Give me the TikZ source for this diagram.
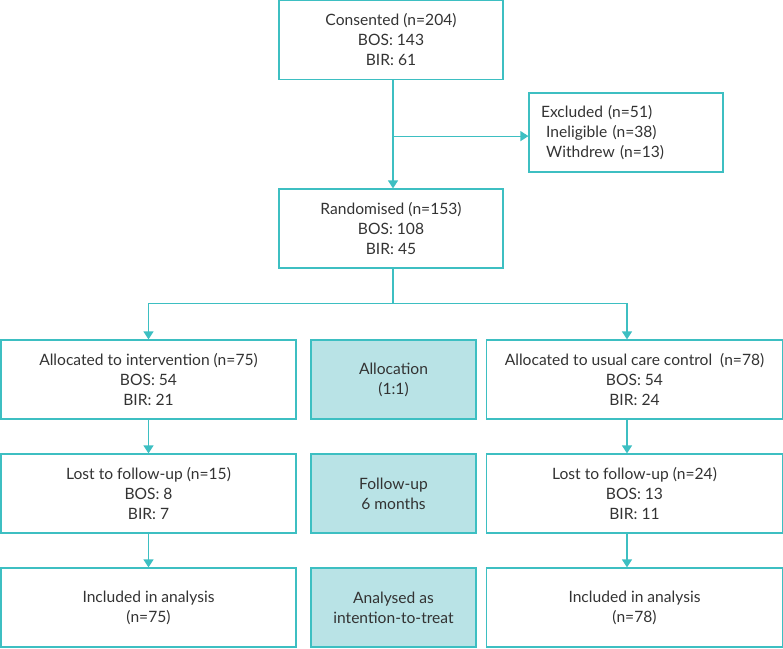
\documentclass[tikz,border=0pt]{standalone}
\usepackage{fontspec}
\setmainfont{Lato}
\usetikzlibrary{arrows.meta}
\definecolor{teal1}{HTML}{3DBFC2}
\definecolor{tealfill}{HTML}{B9E3E6}
\definecolor{txt}{HTML}{333333}
\tikzset{
  box/.style={draw=teal1,line width=1.2pt,align=center,text=txt,inner sep=0pt,
    font=\fontsize{15.6}{20}\selectfont},
  stage/.style={box,fill=tealfill},
  arr/.style={draw=teal1,line width=1.2pt,-{Triangle[width=10pt,length=8pt]}},
  ln/.style={draw=teal1,line width=1.2pt}
}
\begin{document}
\begin{tikzpicture}[x=1pt,y=-1pt]
\useasboundingbox (0,0) rectangle (783,648);
% top of the flow
\node[box,minimum width=224pt,minimum height=79pt] (consent) at (391,40)
  {Consented (n=204)\\BOS: 143\\BIR: 61};
\node[box,minimum width=194pt,minimum height=79pt,align=left,text width=170pt] (excl) at (626,132.5)
  {Excluded (n=51)\\\ Ineligible (n=38)\\\ Withdrew (n=13)};
\node[box,minimum width=224pt,minimum height=79pt] (random) at (391,228.5)
  {Randomised (n=153)\\BOS: 108\\BIR: 45};
% three rows
\node[box,minimum width=295pt,minimum height=79pt] (allocA) at (148.5,379.5)
  {Allocated to intervention (n=75)\\BOS: 54\\BIR: 21};
\node[stage,minimum width=165pt,minimum height=79pt] (alloc) at (393.5,379.5)
  {Allocation\\(1:1)};
\node[box,minimum width=296pt,minimum height=79pt] (allocB) at (634.5,379.5)
  {Allocated to usual care control\ \ (n=78)\\BOS: 54\\BIR: 24};
\node[box,minimum width=295pt,minimum height=79pt] (lostA) at (148.5,493.5)
  {Lost to follow-up (n=15)\\BOS: 8\\BIR: 7};
\node[stage,minimum width=165pt,minimum height=79pt] (follow) at (393.5,493.5)
  {Follow-up\\6 months};
\node[box,minimum width=296pt,minimum height=79pt] (lostB) at (634.5,493.5)
  {Lost to follow-up (n=24)\\BOS: 13\\BIR: 11};
\node[box,minimum width=295pt,minimum height=79pt] (inclA) at (148.5,607.5)
  {Included in analysis\\(n=75)};
\node[stage,minimum width=165pt,minimum height=79pt] (itt) at (393.5,607.5)
  {Analysed as\\intention-to-treat};
\node[box,minimum width=296pt,minimum height=79pt] (inclB) at (634.5,607.5)
  {Included in analysis\\(n=78)};
% connectors
\draw[arr] ([xshift=2pt]consent.south) -- ([xshift=2pt]random.north);
\coordinate (exc) at ([xshift=2pt,yshift=-56pt]consent.south);
\draw[arr] (exc) -- (exc -| excl.west);
\draw[ln] ([xshift=2pt]random.south) -- ++(0,35) coordinate (split);
\draw[arr] (split) -| (allocA.north);
\draw[arr] (split) -| ([xshift=-7.5pt]allocB.north);
\draw[arr] (allocA) -- (lostA);
\draw[arr] (lostA) -- (inclA);
\draw[arr] ([xshift=-7.5pt]allocB.south) -- ([xshift=-7.5pt]lostB.north);
\draw[arr] ([xshift=-7.5pt]lostB.south) -- ([xshift=-7.5pt]inclB.north);
\end{tikzpicture}
\end{document}
